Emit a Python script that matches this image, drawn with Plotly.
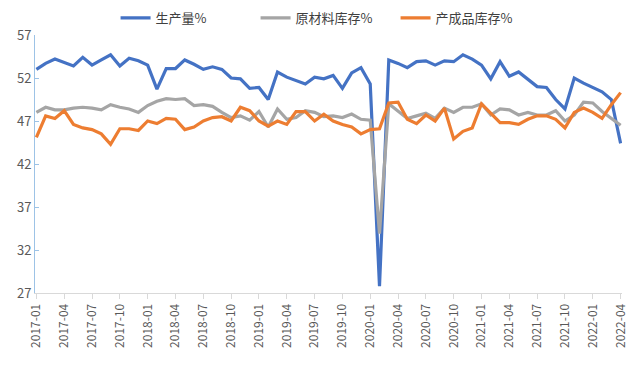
import plotly.graph_objects as go

months = [f"{y}-{m:02d}" for y in range(2017, 2023) for m in range(1, 13)][:64]

production = [53.0, 53.7, 54.2, 53.8, 53.4, 54.4, 53.5, 54.1, 54.7, 53.4, 54.3, 54.0,
              53.5, 50.7, 53.1, 53.1, 54.1, 53.6, 53.0, 53.3, 53.0, 52.0, 51.9, 50.8,
              50.9, 49.5, 52.7, 52.1, 51.7, 51.3, 52.1, 51.9, 52.3, 50.8, 52.6, 53.2,
              51.3, 27.8, 54.1, 53.7, 53.2, 53.9, 54.0, 53.5, 54.0, 53.9, 54.7, 54.2,
              53.5, 51.9, 53.9, 52.2, 52.7, 51.9, 51.0, 50.9, 49.5, 48.4, 52.0, 51.4,
              50.9, 50.4, 49.5, 44.4]

raw_inventory = [48.0, 48.6, 48.3, 48.3, 48.5, 48.6, 48.5, 48.3, 48.9, 48.6, 48.4, 48.0,
                 48.8, 49.3, 49.6, 49.5, 49.6, 48.8, 48.9, 48.7, 48.0, 47.4, 47.6, 47.1,
                 48.1, 46.3, 48.4, 47.2, 47.4, 48.2, 48.0, 47.5, 47.6, 47.4, 47.8, 47.2,
                 47.1, 33.9, 49.0, 48.2, 47.3, 47.6, 47.9, 47.3, 48.5, 48.0, 48.6, 48.6,
                 49.0, 47.7, 48.4, 48.3, 47.7, 48.0, 47.7, 47.7, 48.2, 47.0, 47.7, 49.2,
                 49.1, 48.1, 47.3, 46.5]

finished_inventory = [45.1, 47.6, 47.3, 48.2, 46.6, 46.2, 46.0, 45.5, 44.3, 46.1, 46.1, 45.9,
                      47.0, 46.7, 47.3, 47.2, 46.0, 46.3, 47.0, 47.4, 47.5, 47.0, 48.6, 48.2,
                      47.0, 46.4, 47.0, 46.6, 48.1, 48.1, 47.0, 47.8, 47.0, 46.6, 46.3, 45.5,
                      46.0, 46.1, 49.1, 49.2, 47.2, 46.7, 47.7, 47.0, 48.5, 44.9, 45.8, 46.2,
                      49.0, 47.9, 46.8, 46.8, 46.6, 47.2, 47.6, 47.6, 47.2, 46.2, 48.0, 48.5,
                      48.0, 47.3, 48.9, 50.3]

series = [("生产量%", production, "#4472C4"),
          ("原材料库存%", raw_inventory, "#A5A5A5"),
          ("产成品库存%", finished_inventory, "#ED7D31")]

y_ticks = [27, 32, 37, 42, 47, 52, 57]
x_ticks = months[::3]

fig = go.Figure()
for name, vals, color in series:
    fig.add_trace(go.Scatter(x=months, y=vals, mode="lines", name=name,
                             line=dict(color=color, width=3.2)))

fig.update_layout(
    width=623, height=352,
    margin=dict(l=27, r=9, t=27, b=67, autoexpand=False),
    paper_bgcolor="white", plot_bgcolor="white",
    font=dict(family="Noto Sans CJK SC, sans-serif", color="#595959"),
    showlegend=True,
    legend=dict(orientation="h", x=0.495, xanchor="center",
                yref="container", y=0.972, yanchor="middle",
                font=dict(size=13, color="#404040"), tracegroupgap=0,
                entrywidth=95, entrywidthmode="pixels"),
)
fig.update_xaxes(type="category", range=[-0.15, 63.15],
                 tickmode="array", tickvals=x_ticks, ticktext=x_ticks,
                 tickangle=-90, tickfont=dict(size=12, color="#595959"),
                 showgrid=False, showline=True, linecolor="#D9D9D9", linewidth=1,
                 ticks="outside", ticklen=5, tickcolor="#D9D9D9", zeroline=False)
fig.update_yaxes(range=[27, 57], tickmode="array", tickvals=y_ticks,
                 tickfont=dict(size=13, color="#595959"),
                 showgrid=False, showline=True, linecolor="#9DC3E6", linewidth=1,
                 ticks="inside", ticklen=4, tickcolor="#9DC3E6", zeroline=False)

fig.write_html("out.html")
